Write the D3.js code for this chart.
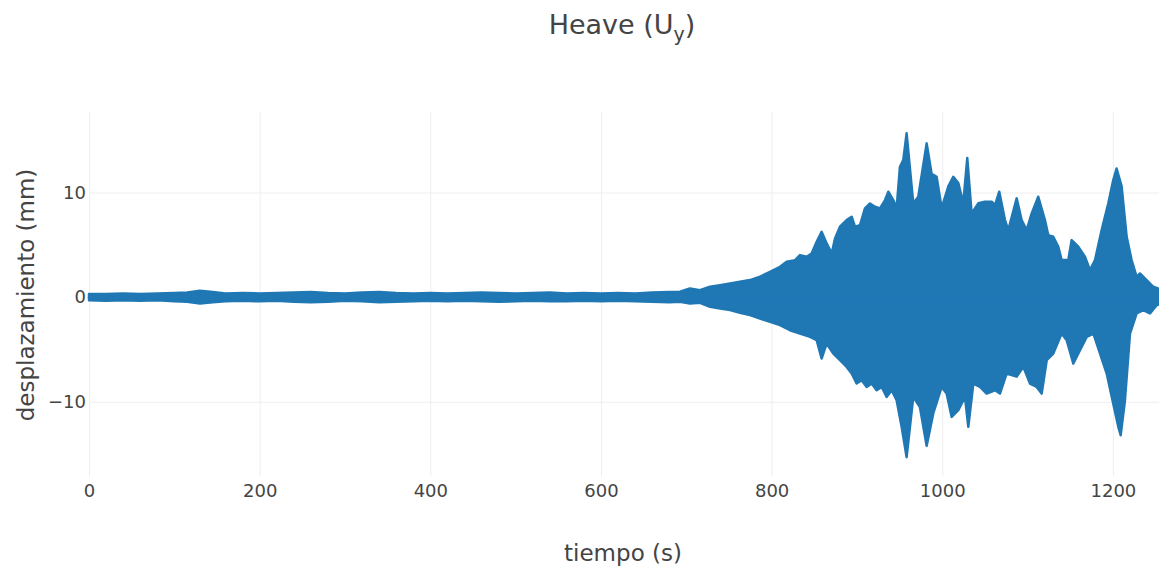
<!DOCTYPE html>
<html lang="es">
  <head>
    <meta charset="utf-8">
    <title>Heave</title>
    <script src="https://d3js.org/d3.v7.min.js"></script>
    <style>
      body { margin: 0; background: #fff; }
      text { font-family: "DejaVu Sans", Verdana, sans-serif; fill: #444; }
      .grid line { stroke: #eeeeee; stroke-width: 1; }
      .grid path { display: none; }
    </style>
  </head>
  <body>
    <div id="my_dataviz"></div>
    <script>

    // envelope of the heave record
    // upper edge: tiempo (s) and max displacement (mm)
    var tiempoSup = [0, 20, 40, 60, 80, 100, 115, 130, 145, 160, 180, 200, 220, 240, 260, 280, 300,
      320, 340, 360, 380, 400, 420, 440, 460, 480, 500, 520, 540, 560, 580, 600, 620, 640, 660, 680,
      692.6, 704.3, 716.0, 727.8, 739.5, 751.2, 762.9, 774.6, 786.4, 798.1, 809.8, 817.6, 827.4,
      833.2, 841.0, 846.9, 852.8, 858.6, 864.5, 870.4, 874.3, 880.1, 887.9, 893.8, 897.7, 903.6,
      909.4, 915.3, 921.1, 927.0, 932.9, 936.8, 942.6, 946.5, 950.4, 954.3, 958.2,
      966.0, 971.9, 981.7, 987.5, 993.4, 999.3, 1007.1, 1012.9, 1018.8, 1024.6, 1029.3, 1034.4,
      1042.2, 1050.0, 1057.9, 1061.8, 1066.8, 1073.5, 1077.4, 1087.2, 1093.0, 1098.9, 1104.8,
      1112.5, 1120.3, 1124.2, 1130.1, 1136.0, 1139.9, 1147.7, 1151.6, 1159.4, 1167.2, 1173.1,
      1179.0, 1186.8, 1194.6, 1200.4, 1204.3, 1210.2, 1216.1, 1221.9, 1227.8, 1231.7, 1239.5,
      1247.3, 1254];
    var maximo = [0.3, 0.3, 0.35, 0.3, 0.35, 0.4, 0.45, 0.6, 0.5, 0.35, 0.4, 0.35, 0.4, 0.45, 0.5, 0.4, 0.35,
      0.45, 0.5, 0.4, 0.35, 0.4, 0.35, 0.4, 0.45, 0.4, 0.35, 0.4, 0.45, 0.35, 0.4, 0.35, 0.4, 0.35, 0.45, 0.5,
      0.51, 0.83, 0.67, 0.99, 1.15, 1.31, 1.47, 1.63, 1.95, 2.42, 2.9, 3.38, 3.54,
      4.02, 3.86, 4.18, 5.3, 6.25, 5.14, 4.18, 5.61, 6.73, 7.37, 7.69, 6.73, 6.89,
      8.49, 8.96, 8.64, 8.49, 9.28, 10.08, 9.28, 8.49, 12.47, 13.1, 15.66,
      8.97, 9.6, 14.7, 11.8, 11.5, 8.5, 10.6, 11.5, 10.9, 8.97, 13.3, 8.0,
      8.97, 9.12, 9.12, 8.8, 10.08, 7.37, 6.41, 9.44, 7.37, 6.41, 8.0,
      9.6, 7.37, 5.93, 5.77, 4.82, 3.54, 3.54, 5.45, 4.82, 3.86, 2.58,
      3.54, 6.41, 8.97, 11.2, 12.3, 10.6, 5.77, 3.54, 1.95, 2.26, 1.63,
      0.99, 0.8];

    // lower edge: tiempo (s) and min displacement (mm)
    var tiempoInf = [0, 20, 40, 60, 80, 100, 115, 130, 145, 160, 180, 200, 220, 240, 260, 280, 300,
      320, 340, 360, 380, 400, 420, 440, 460, 480, 500, 520, 540, 560, 580, 600, 620, 640, 660, 680,
      692.6, 704.3, 716.0, 727.8, 739.5, 751.2, 762.9, 774.6, 786.4, 798.1, 809.8, 821.5, 833.2,
      845.0, 852.8, 858.6, 864.5, 872.3, 880.1, 887.9, 893.8, 899.6, 905.5, 911.4, 917.2, 923.1,
      929.0, 934.8, 940.7, 946.5, 952.4, 958.2,
      966.0, 973.8, 981.7, 989.5, 999.3, 1005.1, 1011.0, 1018.8, 1026.6, 1030.5, 1036.4, 1044.2,
      1052.0, 1061.8, 1067.6, 1075.4, 1087.2, 1095.0, 1102.8, 1110.6, 1116.5, 1122.4, 1130.1,
      1139.9, 1145.8, 1153.6, 1161.4, 1169.3, 1177.1, 1184.9, 1192.7, 1200.4, 1206.3, 1209.1,
      1214.1, 1220.0, 1227.8, 1235.6, 1243.4, 1251.2, 1254];
    var minimo = [-0.3, -0.35, -0.3, -0.35, -0.3, -0.4, -0.45, -0.6, -0.5, -0.4, -0.35, -0.4, -0.35, -0.45, -0.5, -0.45, -0.35,
      -0.4, -0.5, -0.45, -0.4, -0.35, -0.4, -0.35, -0.4, -0.45, -0.4, -0.35, -0.4, -0.4, -0.35, -0.4, -0.35, -0.4, -0.45, -0.5,
      -0.45, -0.61, -0.54, -0.93, -1.08, -1.24, -1.5, -1.72, -2.04, -2.36, -2.68, -3.16, -3.48,
      -3.8, -4.11, -5.87, -4.43, -5.39, -6.03, -6.67, -7.3, -8.26, -7.94, -8.58, -8.26, -8.9,
      -8.58, -9.54, -8.9, -9.86, -12.4, -15.3,
      -9.54, -10.5, -14.2, -11.1, -8.58, -9.22, -11.45, -10.8, -9.54, -12.4, -8.26, -8.58,
      -9.22, -8.9, -9.22, -7.3, -7.6, -6.67, -8.26, -8.58, -9.22, -6.03, -5.39,
      -3.48, -4.11, -6.35, -5.07, -3.8, -3.48, -5.39, -7.3, -10.2, -12.4, -13.2,
      -9.86, -3.48, -1.56, -1.24, -1.56, -0.77, -0.7];

    var xTicks = [0, 200, 400, 600, 800, 1000, 1200];
    var yTicks = [-10, 0, 10];

    var sup = tiempoSup.map(function(t, i) { return {t: t, v: maximo[i]}; });
    var inf = tiempoInf.map(function(t, i) { return {t: t, v: minimo[i]}; });

    // plot area inside the 1159x569 page
    var margin = {top: 112, right: 0, bottom: 93, left: 89},
        width = 1159 - margin.left - margin.right,
        height = 569 - margin.top - margin.bottom;

    var svg = d3.select("#my_dataviz")
      .append("svg")
        .attr("width", 1159)
        .attr("height", 569)
      .append("g")
        .attr("transform", "translate(" + margin.left + "," + margin.top + ")");

    var x = d3.scaleLinear().domain([0, 1254]).range([0, width]);
    var y = d3.scaleLinear().domain([-17.1, 17.7]).range([height, 0]);

    // grid lines
    svg.append("g")
      .attr("class", "grid")
      .attr("transform", "translate(0," + height + ")")
      .call(d3.axisBottom(x).tickValues(xTicks).tickSize(-height).tickFormat(""));
    svg.append("g")
      .attr("class", "grid")
      .call(d3.axisLeft(y).tickValues(yTicks).tickSize(-width).tickFormat(""));

    // the signal: upper half and lower half, both filled to zero
    var area = d3.area()
      .x(function(d) { return x(d.t); })
      .y0(y(0))
      .y1(function(d) { return y(d.v); });

    [sup, inf].forEach(function(half) {
      svg.append("path")
        .datum(half)
        .attr("d", area)
        .attr("fill", "#1f77b4")
        .attr("stroke", "#1f77b4")
        .attr("stroke-width", 2.5)
        .attr("stroke-linejoin", "round");
    });

    // tick labels
    var xAxis = svg.append("g")
      .attr("transform", "translate(0," + height + ")")
      .call(d3.axisBottom(x).tickValues(xTicks).tickFormat(d3.format("d")).tickSize(0).tickPadding(8));
    var yAxis = svg.append("g")
      .call(d3.axisLeft(y).tickValues(yTicks).tickFormat(d3.format("d")).tickSize(0).tickPadding(3));
    xAxis.select(".domain").remove();
    yAxis.select(".domain").remove();
    svg.selectAll(".tick text")
      .style("font-size", "18px")
      .style("fill", "#444");

    // titles
    var title = svg.append("text")
      .attr("x", 622 - margin.left)
      .attr("y", 34 - margin.top)
      .attr("text-anchor", "middle")
      .style("font-size", "27px");
    title.append("tspan").text("Heave (U");
    title.append("tspan").attr("dy", 7).style("font-size", "19px").text("y");
    title.append("tspan").attr("dy", -7).text(")");

    svg.append("text")
      .attr("text-anchor", "middle")
      .attr("x", 623 - margin.left)
      .attr("y", 561 - margin.top)
      .text("tiempo (s)")
      .style("font-size", "23px");

    svg.append("text")
      .attr("text-anchor", "middle")
      .attr("transform", "rotate(-90)")
      .attr("y", 34 - margin.left)
      .attr("x", -(295 - margin.top))
      .text("desplazamiento (mm)")
      .style("font-size", "23px");

    </script>
  </body>
</html>
